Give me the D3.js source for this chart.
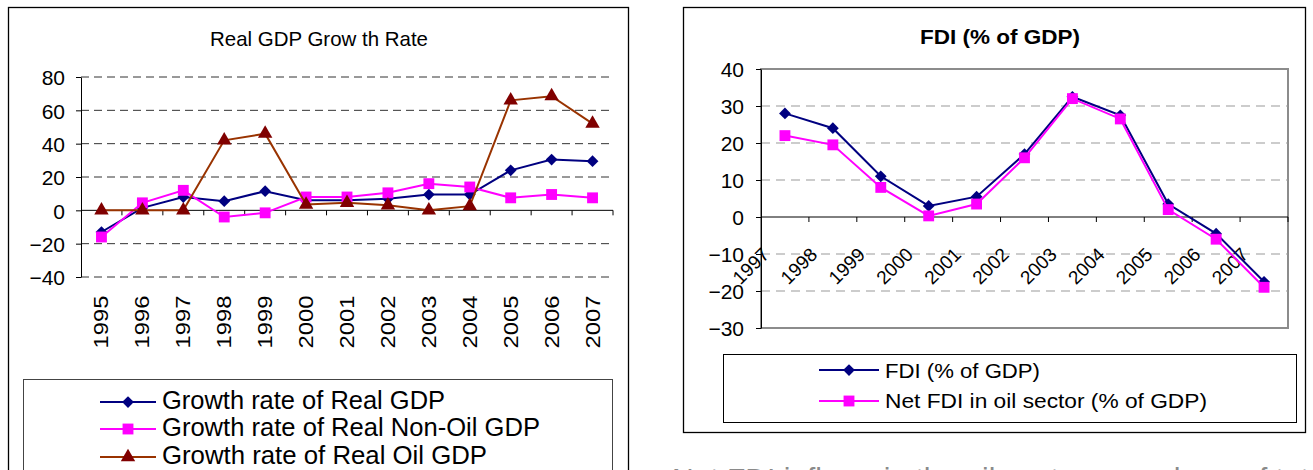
<!DOCTYPE html>
<html>
<head>
<meta charset="utf-8">
<script src="https://cdn.jsdelivr.net/npm/d3@7"></script>
<style>
  html, body { margin: 0; padding: 0; background: #fff; }
  svg { display: block; }
  text { font-family: "Liberation Sans", Arial, sans-serif; fill: #000; }
</style>
</head>
<body>
<svg id="chart" width="1313" height="470"></svg>
<script>
// ---- Real GDP growth (left panel) ----
const growthYears = ["1995","1996","1997","1998","1999","2000","2001","2002","2003","2004","2005","2006","2007"];
const realGdpGrowth   = [-13, 1.5, 8, 5.5, 11.5, 6, 6, 7, 9.5, 9.5, 24, 30.5, 29.5];
const nonOilGdpGrowth = [-16, 4.5, 12, -4, -1.5, 8, 8, 10.5, 16, 14, 7.5, 9.5, 7.5];
const oilGdpGrowth    = [0, 0, 0, 42, 46, 3.5, 4.5, 3, 0, 2.5, 66, 68.5, 52];
const growthTicks = [-40, -20, 0, 20, 40, 60, 80];
const growthLabels = ["Growth rate of Real GDP", "Growth rate of Real Non-Oil GDP", "Growth rate of Real Oil GDP"];

// ---- FDI (right panel) ----
const fdiYears = ["1997","1998","1999","2000","2001","2002","2003","2004","2005","2006","2007"];
const fdiShare    = [28, 24, 11, 3, 5.5, 17, 32.5, 27.5, 3.5, -4.5, -17.5];
const netFdiOil   = [22, 19.5, 8, 0.3, 3.5, 16, 32, 26.5, 2, -6, -19];
const fdiTicks = [-30, -20, -10, 0, 10, 20, 30, 40];
const fdiLabels = ["FDI (% of GDP)", "Net FDI in oil sector (% of GDP)"];

const svg = d3.select("#chart");

const NAVY = "#000080", MAGENTA = "#ff00ff", BROWN = "#993300", DARKRED = "#800000";
const diamond = d3.symbol().type(d3.symbolDiamond2).size(88);
const square = d3.symbol().type(d3.symbolSquare).size(118);
const triangle = d3.symbol().type(d3.symbolTriangle).size(90);

function drawSeries(g, x, y, cats, vals, lineColor, markColor, sym) {
  const pts = cats.map((c, i) => [x(c) + x.bandwidth() / 2, y(vals[i])]);
  g.append("path")
    .attr("d", d3.line()(pts))
    .attr("fill", "none")
    .attr("stroke", lineColor)
    .attr("stroke-width", 2);
  g.selectAll(null).data(pts).join("path")
    .attr("transform", d => `translate(${d[0]},${d[1]})`)
    .attr("d", sym())
    .attr("fill", markColor);
}

function legendRow(g, x0, x1, y, color, markColor, sym, label, size, base, len) {
  g.append("line").attr("x1", x0).attr("x2", x1).attr("y1", y).attr("y2", y)
    .attr("stroke", color).attr("stroke-width", 2);
  g.append("path").attr("transform", `translate(${(x0 + x1) / 2},${y})`)
    .attr("d", sym()).attr("fill", markColor);
  g.append("text").attr("x", x1 + 6).attr("y", base)
    .attr("font-size", size)
    .attr("textLength", len).attr("lengthAdjust", "spacingAndGlyphs")
    .text(label);
}

// ================= Left panel =================
{
  const g = svg.append("g");
  g.append("rect").attr("x", 8.5).attr("y", 7.5).attr("width", 620).attr("height", 480)
    .attr("fill", "#fff").attr("stroke", "#000").attr("stroke-width", 1.3);

  g.append("text").attr("x", 319).attr("y", 46).attr("text-anchor", "middle")
    .attr("font-size", 21).attr("textLength", 218).attr("lengthAdjust", "spacingAndGlyphs")
    .text("Real GDP Grow th Rate");

  const x = d3.scaleBand().domain(growthYears).range([81, 613]);
  const y = d3.scaleLinear().domain([-40, 80]).range([277, 77]);

  // dashed gridlines
  g.selectAll(null).data(growthTicks.filter(v => v !== 0)).join("line")
    .attr("x1", 81).attr("x2", 613)
    .attr("y1", d => y(d)).attr("y2", d => y(d))
    .attr("stroke", "#333").attr("stroke-width", 1).attr("stroke-dasharray", "8,5");

  // value axis
  const ya = g.append("g").attr("transform", "translate(81,0)")
    .call(d3.axisLeft(y).tickValues(growthTicks).tickSize(5).tickPadding(11).tickSizeOuter(0));
  ya.select(".domain").attr("stroke", "#000");
  ya.selectAll(".tick line").attr("stroke", "#000");
  ya.selectAll(".tick text").attr("font-size", 21).attr("font-family", "Liberation Sans, Arial, sans-serif")
    .attr("dy", "0.38em");

  // category axis at zero
  const y0 = y(0);
  g.append("line").attr("x1", 81).attr("x2", 613).attr("y1", y0).attr("y2", y0)
    .attr("stroke", "#000").attr("stroke-width", 1);
  const bounds = growthYears.map(c => x(c)).concat([x.range()[1]]);
  g.selectAll(null).data(bounds.slice(1)).join("line")
    .attr("x1", d => d).attr("x2", d => d).attr("y1", y0).attr("y2", y0 + 5)
    .attr("stroke", "#000");

  g.selectAll(null).data(growthYears).join("text")
    .attr("transform", d => `translate(${x(d) + x.bandwidth() / 2 + 7},322) rotate(-90)`)
    .attr("text-anchor", "middle")
    .attr("font-size", 20)
    .attr("textLength", 53).attr("lengthAdjust", "spacingAndGlyphs")
    .text(d => d);

  const s = g.append("g");
  drawSeries(s, x, y, growthYears, realGdpGrowth, NAVY, NAVY, diamond);
  drawSeries(s, x, y, growthYears, nonOilGdpGrowth, MAGENTA, MAGENTA, square);
  drawSeries(s, x, y, growthYears, oilGdpGrowth, BROWN, DARKRED, triangle);

  // legend
  const lg = g.append("g");
  lg.append("rect").attr("x", 23.5).attr("y", 379.5).attr("width", 589).attr("height", 110)
    .attr("fill", "#fff").attr("stroke", "#444").attr("stroke-width", 1);
  legendRow(lg, 100, 156, 402, NAVY, NAVY, diamond, growthLabels[0], 26, 409, 283);
  legendRow(lg, 100, 156, 429, MAGENTA, MAGENTA, square, growthLabels[1], 26, 436, 378);
  legendRow(lg, 100, 156, 457, BROWN, DARKRED, triangle, growthLabels[2], 26, 464, 325);
}

// ================= Right panel =================
{
  const g = svg.append("g");
  g.append("rect").attr("x", 683.5).attr("y", 7.5).attr("width", 622).attr("height", 425)
    .attr("fill", "#fff").attr("stroke", "#000").attr("stroke-width", 1.3);

  g.append("text").attr("x", 1000).attr("y", 44).attr("text-anchor", "middle")
    .attr("font-size", 21).attr("font-weight", "bold")
    .attr("textLength", 160).attr("lengthAdjust", "spacingAndGlyphs")
    .text("FDI (% of GDP)");

  const x = d3.scaleBand().domain(fdiYears).range([761, 1288]);
  const y = d3.scaleLinear().domain([-30, 40]).range([328, 69]);

  // plot area frame
  g.append("rect").attr("x", 761).attr("y", 69).attr("width", 527).attr("height", 259)
    .attr("fill", "none").attr("stroke", "#8c8c8c").attr("stroke-width", 2);

  g.selectAll(null).data(fdiTicks.filter(v => v !== 0 && v !== 40 && v !== -30)).join("line")
    .attr("x1", 761).attr("x2", 1288)
    .attr("y1", d => y(d)).attr("y2", d => y(d))
    .attr("stroke", "#999").attr("stroke-width", 1.2).attr("stroke-dasharray", "9,6");

  const ya = g.append("g").attr("transform", "translate(761,0)")
    .call(d3.axisLeft(y).tickValues(fdiTicks).tickSize(5).tickPadding(12).tickSizeOuter(0));
  ya.select(".domain").attr("stroke", "#000");
  ya.selectAll(".tick line").attr("stroke", "#000");
  ya.selectAll(".tick text").attr("font-size", 21).attr("font-family", "Liberation Sans, Arial, sans-serif")
    .attr("dy", "0.38em");

  const y0 = y(0);
  g.append("line").attr("x1", 761).attr("x2", 1288).attr("y1", y0).attr("y2", y0)
    .attr("stroke", "#000").attr("stroke-width", 1);
  const bounds = fdiYears.map(c => x(c)).concat([x.range()[1]]);
  g.selectAll(null).data(bounds.slice(1)).join("line")
    .attr("x1", d => d).attr("x2", d => d).attr("y1", y0).attr("y2", y0 + 5)
    .attr("stroke", "#000");

  g.selectAll(null).data(fdiYears).join("text")
    .attr("transform", d => `translate(${x(d) + x.bandwidth() / 2 - 34},266) rotate(-45)`)
    .attr("text-anchor", "middle")
    .attr("dominant-baseline", "central")
    .attr("font-size", 19)
    .text(d => d);

  const s = g.append("g");
  drawSeries(s, x, y, fdiYears, fdiShare, NAVY, NAVY, diamond);
  drawSeries(s, x, y, fdiYears, netFdiOil, MAGENTA, MAGENTA, square);

  const lg = g.append("g");
  lg.append("rect").attr("x", 723.5).attr("y", 354.5).attr("width", 573).attr("height", 68)
    .attr("fill", "#fff").attr("stroke", "#000").attr("stroke-width", 1);
  legendRow(lg, 819, 879, 370, NAVY, NAVY, diamond, fdiLabels[0], 21, 378, 155);
  legendRow(lg, 819, 879, 401, MAGENTA, MAGENTA, square, fdiLabels[1], 21, 408, 322);
}

// running body text beneath the right panel (clipped by the page edge)
svg.append("text").attr("x", 672).attr("y", 489)
  .attr("font-family", "Liberation Serif, Times New Roman, serif")
  .attr("font-size", 30).style("fill", "#8a8a8a")
  .text("Net FDI inflows in the oil sector as a share of total GDP in");
</script>
</body>
</html>
